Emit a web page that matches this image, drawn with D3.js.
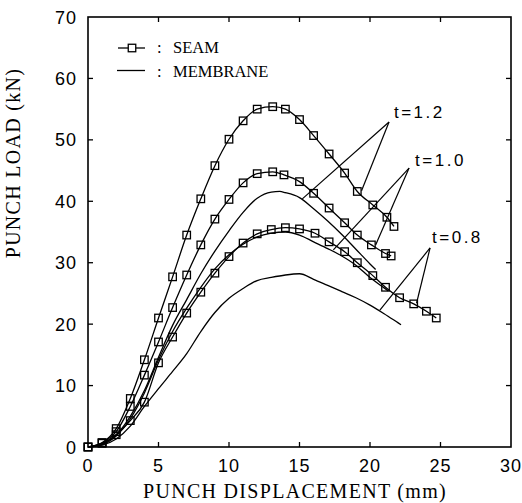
<!DOCTYPE html>
<html>
<head>
<meta charset="utf-8">
<script src="https://cdn.jsdelivr.net/npm/d3@7"></script>
<style>
  body { margin: 0; background: #fff; }
  svg { display: block; }
</style>
</head>
<body>
<div id="chart"></div>
<script>
// punch displacement (mm) / punch load (kN)
const seam12 = [[0,0],[1,0.7],[2,3],[3,7.9],[4,14.2],[5,21],[6,27.7],[7,34.5],[8,40.4],[9,45.8],[10,50.1],[11,53.1],[12,55],[13.1,55.4],[14,55],[15,53.3],[16,50.7],[17.1,47.7],[18.2,44.6],[19.1,41.6],[20.2,39.4],[21.2,37.4],[21.7,35.9]];
const seam10 = [[0,0],[1,0.7],[2,2.5],[3,6.6],[4,11.7],[5,17.1],[6,22.7],[7,28],[8,32.9],[9,37.1],[10,40.3],[11,43],[12,44.5],[13.1,44.8],[13.9,44.3],[15,43.2],[16,41.3],[17.1,38.9],[18.2,36.5],[19.1,34.5],[20.1,32.9],[21.1,31.5],[21.5,31.1]];
const seam08 = [[0,0],[1,0.6],[2,2],[3,4.3],[4,7.3],[5,13.7],[6,17.9],[7,21.8],[8,25.2],[9,28.3],[10,31],[11,33.2],[12,34.7],[13,35.4],[14,35.7],[15,35.5],[16.1,34.8],[17.1,33.4],[18.2,31.8],[19.1,30],[20.2,27.9],[21.1,26],[22.1,24.3],[23.1,23.3],[24,22.1],[24.7,21]];
const membrane12 = [[0,0],[1,0.5],[2,2],[3,5],[4,9.2],[5,14.6],[6,19.8],[7,24],[8,28.2],[9,31.9],[10,35.2],[11,38.2],[12,40.5],[13,41.5],[13.6,41.6],[14,41.4],[15,40.6],[16,38.8],[17,36.8],[18,34.6],[19,32.2],[20,29.8],[20.4,28.9]];
const membrane10 = [[0,0],[1,0.4],[2,1.8],[3,4.6],[4,8.8],[5,14.2],[6,18.8],[7,22.6],[8,26],[9,29],[10,31.3],[11,33],[12,34.2],[13,34.8],[14,35],[15,34.5],[16,33.4],[17,32.3],[18,31.1],[19,29.6],[20,27.6],[21,25.9],[21.3,25.4]];
const membrane08 = [[0,0],[1,0.3],[2,1.3],[3,3.4],[4,6.6],[5,9.5],[6,12.3],[7,15.2],[8,18.8],[9,21.9],[10,24.2],[11,25.8],[12,27.1],[13,27.6],[14,28],[15,28.2],[16,27.3],[17,26.3],[18,25.3],[19,24.3],[20,23.1],[21,21.7],[22,20.2],[22.2,19.9]];

const xTicks = [0,5,10,15,20,25,30];
const yTicks = [0,10,20,30,40,50,60,70];

// thickness labels: [text, label pos, apex, membrane target, seam target]
const labels = [
    ['t=1.2', [21.7,53.6], [21.35,52.9], [15.2,40.4], [19.4,41.7]],
    ['t=1.0', [23.2,45.8], [22.77,45.4], [17.4,32.1], [20.4,32.9]],
    ['t=0.8', [24.4,33.2], [24.26,32.4], [20.7,22.3], [23.3,23.4]]
];

const W = 522, H = 503;
const plot = {left: 88, right: 511, top: 17, bottom: 447};

const svg = d3.select('#chart').append('svg')
    .attr('width', W)
    .attr('height', H);

const xScale = d3.scaleLinear().domain([0,30]).range([plot.left, plot.right]);
const yScale = d3.scaleLinear().domain([0,70]).range([plot.bottom, plot.top]);

const line = d3.line()
    .curve(d3.curveMonotoneX)
    .x(d => xScale(d[0]))
    .y(d => yScale(d[1]));

// frame
svg.append('rect')
    .attr('x', plot.left)
    .attr('y', plot.top)
    .attr('width', plot.right - plot.left)
    .attr('height', plot.bottom - plot.top)
    .attr('fill', 'none')
    .attr('stroke', '#000')
    .attr('stroke-width', 1.6);

// inward ticks on all four sides
const tickLen = 5;
const innerX = xTicks.slice(1, -1), innerY = yTicks.slice(1, -1);
const ticks = svg.append('g').attr('stroke', '#000').attr('stroke-width', 1.3);
innerX.forEach(v => {
    ticks.append('line').attr('x1', xScale(v)).attr('x2', xScale(v))
        .attr('y1', plot.bottom).attr('y2', plot.bottom - tickLen);
    ticks.append('line').attr('x1', xScale(v)).attr('x2', xScale(v))
        .attr('y1', plot.top).attr('y2', plot.top + tickLen);
});
innerY.forEach(v => {
    ticks.append('line').attr('y1', yScale(v)).attr('y2', yScale(v))
        .attr('x1', plot.left).attr('x2', plot.left + tickLen);
    ticks.append('line').attr('y1', yScale(v)).attr('y2', yScale(v))
        .attr('x1', plot.right).attr('x2', plot.right - tickLen);
});

const tickFont = {family: 'Liberation Sans, Arial, sans-serif', size: '18px'};

svg.append('g').selectAll('text')
    .data(xTicks).enter().append('text')
    .attr('x', d => xScale(d))
    .attr('y', 472)
    .attr('text-anchor', 'middle')
    .attr('font-family', tickFont.family)
    .attr('font-size', tickFont.size)
    .attr('letter-spacing', '1px')
    .text(d => d);

svg.append('g').selectAll('text')
    .data(yTicks).enter().append('text')
    .attr('x', 77)
    .attr('y', d => yScale(d) + 6.5)
    .attr('text-anchor', 'end')
    .attr('font-family', tickFont.family)
    .attr('font-size', tickFont.size)
    .attr('letter-spacing', '1px')
    .text(d => d);

// axis titles
const serif = 'Liberation Serif, Times New Roman, serif';
svg.append('text')
    .attr('x', 295)
    .attr('y', 498)
    .attr('text-anchor', 'middle')
    .attr('font-family', serif)
    .attr('font-size', '20px')
    .attr('letter-spacing', '1.3px')
    .text('PUNCH DISPLACEMENT (mm)');

svg.append('text')
    .attr('transform', 'translate(20,163)rotate(-90)')
    .attr('text-anchor', 'middle')
    .attr('font-family', serif)
    .attr('font-size', '20px')
    .attr('letter-spacing', '1.3px')
    .text('PUNCH LOAD (kN)');

// curves
const curves = svg.append('g')
    .attr('fill', 'none')
    .attr('stroke', '#000')
    .attr('stroke-width', 1.3);

[membrane12, membrane10, membrane08, seam12, seam10, seam08].forEach(s => {
    curves.append('path').attr('d', line(s));
});

const sq = 7.5;
[seam12, seam10, seam08].forEach(s => {
    svg.append('g').selectAll('rect')
        .data(s).enter().append('rect')
        .attr('x', d => xScale(d[0]) - sq / 2)
        .attr('y', d => yScale(d[1]) - sq / 2)
        .attr('width', sq)
        .attr('height', sq)
        .attr('fill', 'none')
        .attr('stroke', '#000')
        .attr('stroke-width', 1.3);
});

// thickness labels with pointer lines
labels.forEach(([txt, pos, apex, mem, seam]) => {
    [mem, seam].forEach(p => {
        svg.append('line')
            .attr('x1', xScale(apex[0])).attr('y1', yScale(apex[1]))
            .attr('x2', xScale(p[0])).attr('y2', yScale(p[1]))
            .attr('stroke', '#000')
            .attr('stroke-width', 1.2);
    });
    svg.append('text')
        .attr('x', xScale(pos[0]))
        .attr('y', yScale(pos[1]))
        .attr('font-family', tickFont.family)
        .attr('font-size', '17px')
        .attr('letter-spacing', '2.5px')
        .text(txt);
});

// legend
const legend = svg.append('g');
legend.append('line')
    .attr('x1', 118).attr('x2', 145).attr('y1', 48).attr('y2', 48)
    .attr('stroke', '#000').attr('stroke-width', 1.3);
legend.append('rect')
    .attr('x', 132 - sq / 2).attr('y', 48 - sq / 2)
    .attr('width', sq).attr('height', sq)
    .attr('fill', '#fff').attr('stroke', '#000').attr('stroke-width', 1.3);
legend.append('line')
    .attr('x1', 117).attr('x2', 145).attr('y1', 70.5).attr('y2', 70.5)
    .attr('stroke', '#000').attr('stroke-width', 1.3);

[['SEAM', 53], ['MEMBRANE', 77]].forEach(([name, y]) => {
    legend.append('text').attr('x', 157).attr('y', y)
        .attr('font-family', serif).attr('font-size', '16.5px').text(':');
    legend.append('text').attr('x', 173).attr('y', y)
        .attr('font-family', serif).attr('font-size', '16.5px').text(name);
});
</script>
</body>
</html>
